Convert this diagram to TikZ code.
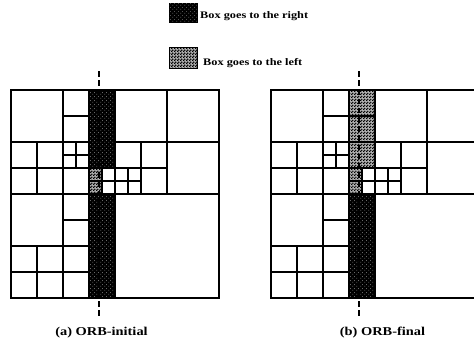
\documentclass[tikz,border=0pt]{standalone}
\usepackage{fontspec}
\setmainfont{Liberation Serif}
\usepackage{graphicx}
\usetikzlibrary{patterns}
\pgfdeclarepatternformonly{chkdots}{\pgfqpoint{0pt}{0pt}}{\pgfqpoint{3pt}{3pt}}{\pgfqpoint{3pt}{3pt}}{%
  \pgfpathcircle{\pgfqpoint{0.75pt}{0.75pt}}{1.0pt}%
  \pgfpathcircle{\pgfqpoint{2.25pt}{2.25pt}}{1.0pt}%
  \pgfusepath{fill}}
\pgfdeclarepatternformonly{litedots}{\pgfqpoint{0pt}{0pt}}{\pgfqpoint{4pt}{4pt}}{\pgfqpoint{4pt}{4pt}}{%
  \pgfpathcircle{\pgfqpoint{1pt}{1pt}}{0.55pt}%
  \pgfpathcircle{\pgfqpoint{3pt}{3pt}}{0.55pt}%
  \pgfusepath{fill}}
\newcommand\legfont{\fontsize{10}{10}\selectfont\bfseries}
\newcommand\capfont{\fontsize{12}{12}\selectfont\bfseries}
\newcommand\orbcells{%
  \draw[cellbox] (0,0) rectangle (2,2);
  \draw[cellbox] (2,0) rectangle (3,1);
  \draw[cellbox] (2,1) rectangle (3,2);
  \draw[cellbox] (4,0) rectangle (6,2);
  \draw[cellbox] (6,0) rectangle (8,2);
  \draw[cellbox] (0,2) rectangle (1,3);
  \draw[cellbox] (1,2) rectangle (2,3);
  \draw[cellbox] (2,2) rectangle (2.5,2.5);
  \draw[cellbox] (2.5,2) rectangle (3,2.5);
  \draw[cellbox] (2,2.5) rectangle (2.5,3);
  \draw[cellbox] (2.5,2.5) rectangle (3,3);
  \draw[cellbox] (4,2) rectangle (5,3);
  \draw[cellbox] (5,2) rectangle (6,3);
  \draw[cellbox] (6,2) rectangle (8,4);
  \draw[cellbox] (0,3) rectangle (1,4);
  \draw[cellbox] (1,3) rectangle (2,4);
  \draw[cellbox] (2,3) rectangle (3,4);
  \draw[cellbox] (3.5,3) rectangle (4,3.5);
  \draw[cellbox] (3.5,3.5) rectangle (4,4);
  \draw[cellbox] (4,3) rectangle (4.5,3.5);
  \draw[cellbox] (4.5,3) rectangle (5,3.5);
  \draw[cellbox] (4,3.5) rectangle (4.5,4);
  \draw[cellbox] (4.5,3.5) rectangle (5,4);
  \draw[cellbox] (5,3) rectangle (6,4);
  \draw[cellbox] (0,4) rectangle (2,6);
  \draw[cellbox] (2,4) rectangle (3,5);
  \draw[cellbox] (2,5) rectangle (3,6);
  \draw[cellbox] (4,4) rectangle (8,8);
  \draw[cellbox] (0,6) rectangle (1,7);
  \draw[cellbox] (1,6) rectangle (2,7);
  \draw[cellbox] (0,7) rectangle (1,8);
  \draw[cellbox] (1,7) rectangle (2,8);
  \draw[cellbox] (2,6) rectangle (3,7);
  \draw[cellbox] (2,7) rectangle (3,8);
  \draw[cellbox] (3,3) rectangle (3.5,3.5);
  \draw[cellbox] (3,3.5) rectangle (3.5,4);
  \draw[cellbox] (0,0) rectangle (8,8);
}
\begin{document}
\begin{tikzpicture}[x=1pt,y=-1pt,
  cellbox/.style={draw=black, line width=1.8pt},
  darkfill/.style={fill=black, postaction={pattern=litedots, pattern color=black!50}},
  chkfill/.style={fill=black!30, postaction={pattern=chkdots, pattern color=black}},
  cutline/.style={line width=2pt, dash pattern=on 5.5pt off 3.7pt}]
\useasboundingbox (0,0) rectangle (474,346);
\clip (0,0) rectangle (474,346);

% legend
\node[draw, line width=1pt, darkfill, minimum width=28pt, minimum height=19pt, inner sep=0pt] (legR) at (183,12.5) {};
\node[draw, line width=1pt, chkfill, minimum width=28pt, minimum height=21pt, inner sep=0pt] (legL) at (183,57.5) {};
\node[anchor=base west, inner sep=0pt, font=\legfont] (txtR) at (200,18.5) {\scalebox{1.23}[1]{Box goes to the right}};
\node[anchor=base west, inner sep=0pt, font=\legfont] (txtL) at (203,65.5) {\scalebox{1.23}[1]{Box goes to the left}};

% (a) ORB-initial
\begin{scope}[shift={(11,90)}, x=26pt, y=-26pt]
  \fill[darkfill] (3,0) rectangle (4,3);
  \fill[darkfill] (3,4) rectangle (4,8);
  \fill[chkfill] (3,3) rectangle (3.5,4);
  \orbcells
\end{scope}
\coordinate (aT) at (99,71);
\coordinate (aB) at (99,315.5);
\draw[cutline] (aT) -- (aB);
\node[anchor=base, inner sep=0pt, font=\capfont] (capA) at (101.5,335) {\scalebox{1.2}[1]{(a) ORB-initial}};

% (b) ORB-final
\begin{scope}[shift={(271,90)}, x=26pt, y=-26pt]
  \fill[chkfill] (3,0) rectangle (4,3);
  \fill[darkfill] (3,4) rectangle (4,8);
  \fill[chkfill] (3,3) rectangle (3.5,4);
  \draw[cellbox] (3,0) rectangle (4,1);
  \draw[cellbox] (3,1) rectangle (4,2);
  \draw[cellbox] (3,2) rectangle (4,3);
  \orbcells
\end{scope}
\coordinate (bT) at (359,71);
\coordinate (bB) at (359,315.5);
\draw[cutline] (bT) -- (bB);
\node[anchor=base, inner sep=0pt, font=\capfont] (capB) at (382.5,335) {\scalebox{1.2}[1]{(b) ORB-final}};
\end{tikzpicture}
\end{document}
